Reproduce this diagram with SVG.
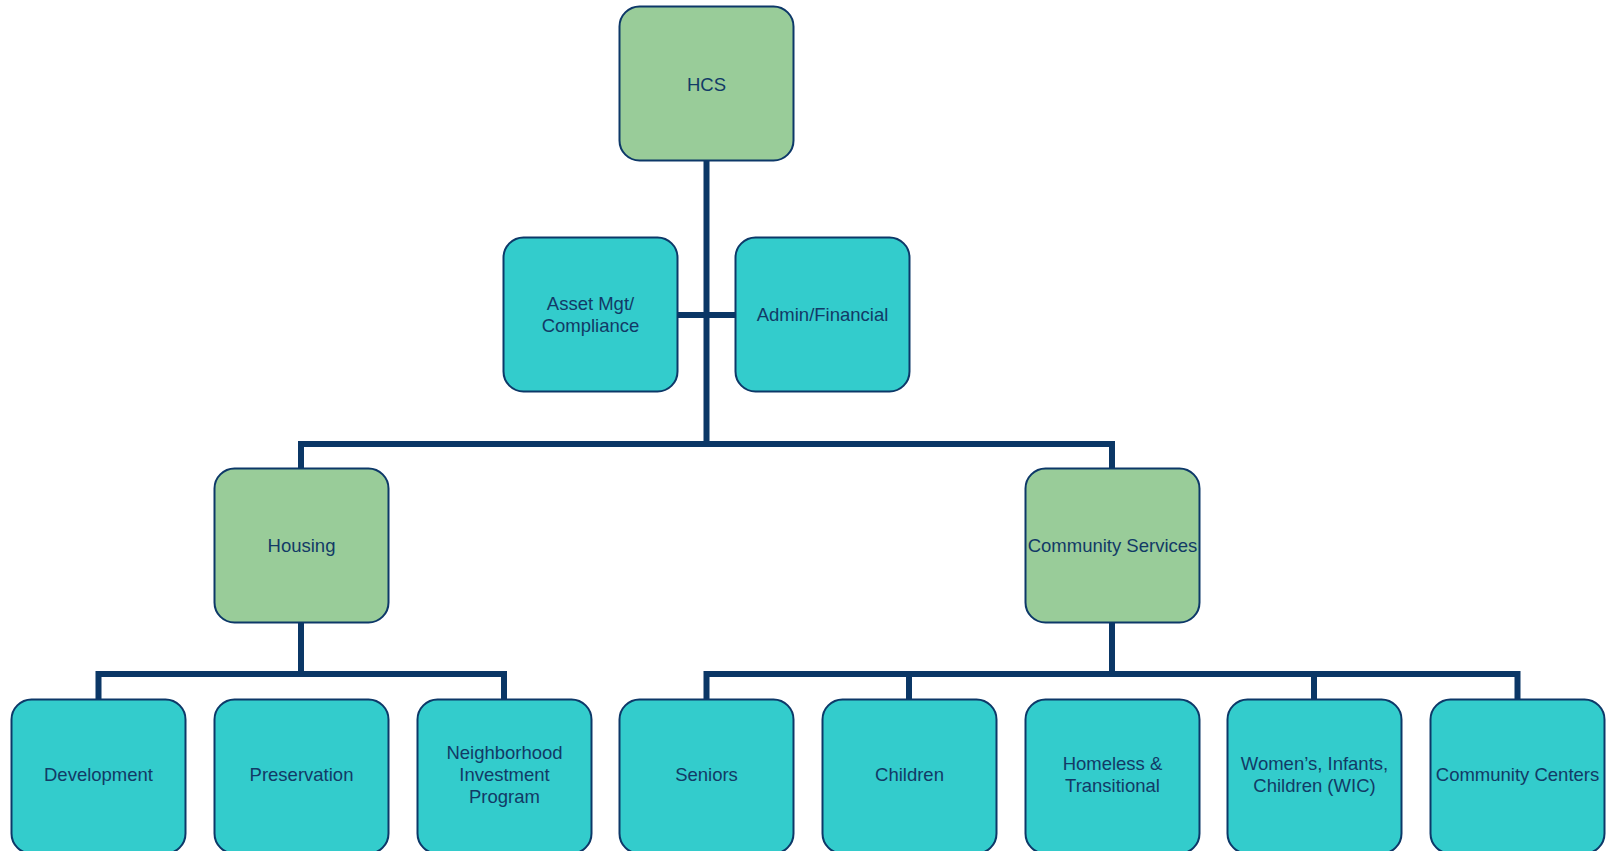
<svg xmlns="http://www.w3.org/2000/svg" width="1612" height="851" viewBox="0 0 1612 851">
<style>
.box{stroke:#0d3868;stroke-width:2}
.g{fill:#99cc99}
.t{fill:#33cccc}
.lbl{font-family:"Liberation Sans",Arial,sans-serif;font-size:18.5px;fill:#123a66;text-anchor:middle}
.c{fill:none;stroke:#0b3766;stroke-width:6;stroke-linejoin:miter}
</style>
<rect width="1612" height="851" fill="#ffffff"/>
<g id="connectors">
<path class="c" d="M706.5 160 V444"/>
<path class="c" d="M678 315 H736"/>
<path class="c" d="M301 468 V444 H1112 V468"/>
<path class="c" d="M301 622 V674"/>
<path class="c" d="M98.5 699 V674 H504 V699"/>
<path class="c" d="M1112 622 V674"/>
<path class="c" d="M706.5 699 V674 H1517.5 V699"/>
<path class="c" d="M909 674 V699"/>
<path class="c" d="M1314 674 V699"/>
</g>
<g id="hcs"><rect class="box g" x="619.5" y="6.5" width="174" height="154" rx="20"/><text class="lbl" x="706.5" y="91">HCS</text></g>
<g id="asset"><rect class="box t" x="503.5" y="237.5" width="174" height="154" rx="20"/><text class="lbl" x="590.5" y="310">Asset Mgt/</text><text class="lbl" x="590.5" y="332">Compliance</text></g>
<g id="admin"><rect class="box t" x="735.5" y="237.5" width="174" height="154" rx="20"/><text class="lbl" x="822.5" y="321">Admin/Financial</text></g>
<g id="housing"><rect class="box g" x="214.5" y="468.5" width="174" height="154" rx="20"/><text class="lbl" x="301.5" y="552">Housing</text></g>
<g id="community-services"><rect class="box g" x="1025.5" y="468.5" width="174" height="154" rx="20"/><text class="lbl" x="1112.5" y="552">Community Services</text></g>
<g id="development"><rect class="box t" x="11.5" y="699.5" width="174" height="154" rx="20"/><text class="lbl" x="98.5" y="781">Development</text></g>
<g id="preservation"><rect class="box t" x="214.5" y="699.5" width="174" height="154" rx="20"/><text class="lbl" x="301.5" y="781">Preservation</text></g>
<g id="nip"><rect class="box t" x="417.5" y="699.5" width="174" height="154" rx="20"/><text class="lbl" x="504.5" y="759">Neighborhood</text><text class="lbl" x="504.5" y="781">Investment</text><text class="lbl" x="504.5" y="803">Program</text></g>
<g id="seniors"><rect class="box t" x="619.5" y="699.5" width="174" height="154" rx="20"/><text class="lbl" x="706.5" y="781">Seniors</text></g>
<g id="children"><rect class="box t" x="822.5" y="699.5" width="174" height="154" rx="20"/><text class="lbl" x="909.5" y="781">Children</text></g>
<g id="homeless"><rect class="box t" x="1025.5" y="699.5" width="174" height="154" rx="20"/><text class="lbl" x="1112.5" y="770">Homeless &amp;</text><text class="lbl" x="1112.5" y="792">Transitional</text></g>
<g id="wic"><rect class="box t" x="1227.5" y="699.5" width="174" height="154" rx="20"/><text class="lbl" x="1314.5" y="770">Women’s, Infants,</text><text class="lbl" x="1314.5" y="792">Children (WIC)</text></g>
<g id="community-centers"><rect class="box t" x="1430.5" y="699.5" width="174" height="154" rx="20"/><text class="lbl" x="1517.5" y="781">Community Centers</text></g>
</svg>
